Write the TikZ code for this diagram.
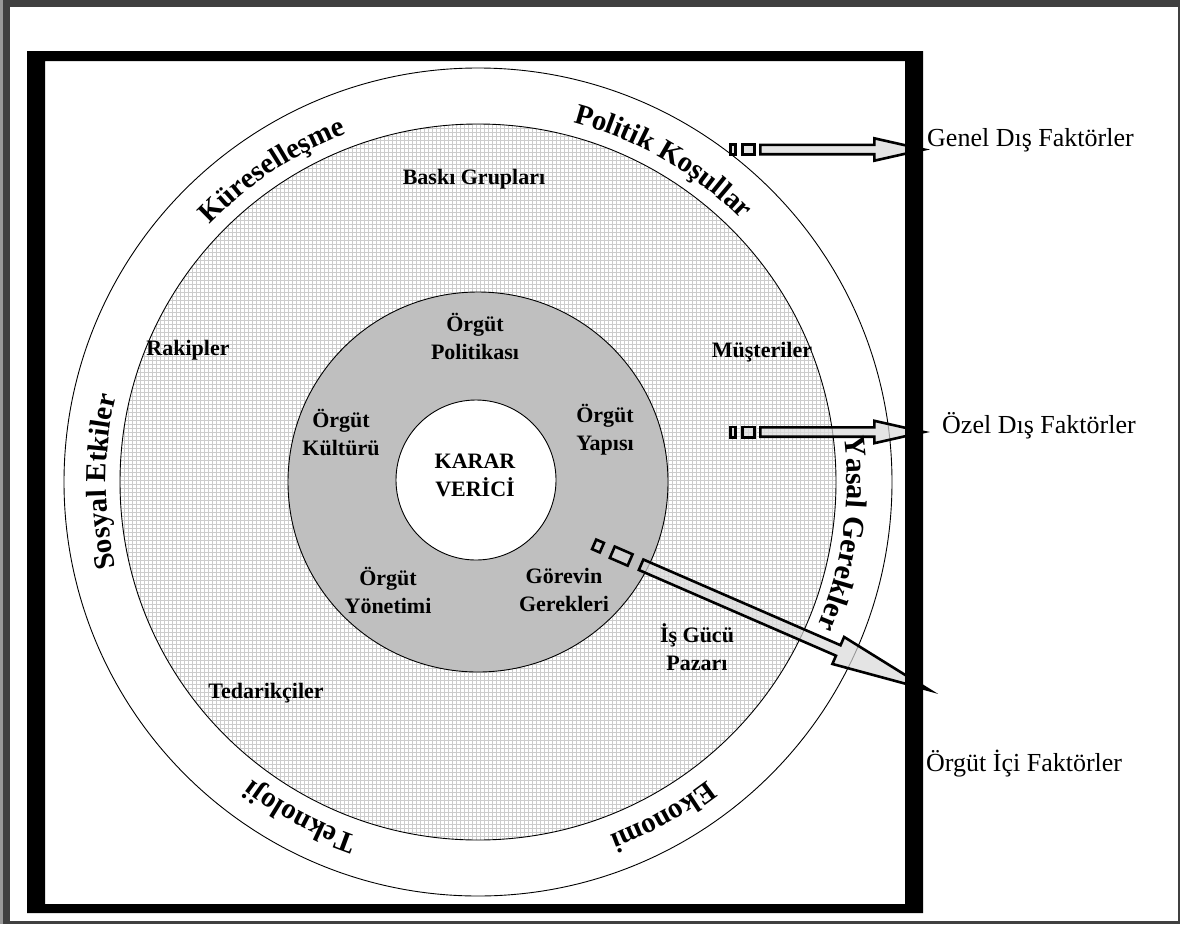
\documentclass[tikz,border=0pt]{standalone}
\usepackage{fontspec}
\setmainfont{Liberation Serif}
\usetikzlibrary{decorations.text}

\newcommand{\ringfont}{\fontsize{29}{31}\selectfont\bfseries}
\newcommand{\bigringfont}{\fontsize{30}{32}\selectfont\bfseries}

\begin{document}
\begin{tikzpicture}[x=1pt,y=1pt,
  ringtext/.style={decorate, decoration={text along path, text align=center,
      text={|\ringfont|#1}}},
  bigringtext/.style={decorate, decoration={text along path, text align=center,
      text={|\bigringfont|#1}}},
  inlabel/.style={font=\fontsize{22}{28}\selectfont\bfseries, align=center, inner sep=0pt},
  sidelabel/.style={font=\fontsize{26}{30}\selectfont, anchor=base west, inner sep=0pt},
  arrowpart/.style={draw=black, line width=2.6pt, fill=black!15, fill opacity=0.7,
      draw opacity=1, line join=miter},
  circline/.style={draw=black, line width=0.9pt},
  gridline/.style={draw=black!20, line width=0.7pt},
]
\useasboundingbox (0,0) rectangle (1180,-924);

% window edge and page
\fill[black!75] (0,0) rectangle (1180,-924);
\fill[black!40] (0,0) rectangle (3,-924);
\fill[white] (10,-7) rectangle (1178,-921);

\coordinate (C) at (478,-482);

% outer ring: general external factors
\draw[circline, fill=white] (C) circle[radius=414];

% middle disc: specific external factors (fine grid fill)
\begin{scope}
  \clip (C) circle[radius=358];
  \fill[white] (C) circle[radius=358];
  \draw[gridline] (110,-116) grid[step=4] (850,-850);
\end{scope}
\draw[circline] (C) circle[radius=358];

% inner ring: internal factors
\draw[circline, fill=black!25] (C) circle[radius=190];
\draw[circline, fill=white] (476,-480) circle[radius=80];

% words written along the outer ring (clockwise, tops outward)
\begin{scope}[shift={(478,-482)}]
  \path[ringtext={Küreselleşme}] (153.5:372) arc[start angle=153.5, end angle=93.5, radius=372];
  \path[ringtext={Politik Koşullar}] (95:372) arc[start angle=95, end angle=25, radius=372];
  \path[ringtext={Sosyal Etkiler}] (215:372) arc[start angle=215, end angle=145, radius=372];
  \path[bigringtext={Yasal Gerekler}] (27:369) arc[start angle=27, end angle=-43, radius=369];
  \path[ringtext={Teknoloji}] (-88:374) arc[start angle=-88, end angle=-148, radius=374];
  \path[ringtext={Ekonomi}] (-30.5:377) arc[start angle=-30.5, end angle=-91.5, radius=377];
\end{scope}

% labels inside the rings
\node[inlabel] (baski)   at (474,-179) {Baskı Grupları};
\node[inlabel] (rakip)   at (188,-350) {Rakipler};
\node[inlabel] (musteri) at (762,-352) {Müşteriler};
\node[inlabel] (tedarik) at (266,-693) {Tedarikçiler};
\node[inlabel] (isgucu)  at (697,-647) {İş Gücü\\Pazarı};
\node[inlabel] (politika) at (475,-336) {Örgüt\\Politikası};
\node[inlabel] (kultur)  at (341,-432) {Örgüt\\Kültürü};
\node[inlabel] (yapi)    at (605,-430) {Örgüt\\Yapısı};
\node[inlabel] (karar)   at (475,-475) {KARAR\\VERİCİ};
\node[inlabel] (yonetim) at (388,-590) {Örgüt\\Yönetimi};
\node[inlabel] (gorev)   at (564,-590) {Görevin\\Gerekleri};

% block arrows pointing to the factor names
\begin{scope}[shift={(729,-149.5)}]
  \draw[arrowpart] (1.3,-5.2) rectangle (6.7,5.2);
  \draw[arrowpart] (13.3,-5.2) rectangle (25.7,5.2);
  \draw[arrowpart] (31.3,-4.7) -- (145.3,-4.7) -- (145.3,-11.2) -- (195,0)
      -- (145.3,11.2) -- (145.3,4.7) -- (31.3,4.7) -- cycle;
\end{scope}
\begin{scope}[shift={(729,-432)}]
  \draw[arrowpart] (1.3,-5.2) rectangle (6.7,5.2);
  \draw[arrowpart] (13.3,-5.2) rectangle (25.7,5.2);
  \draw[arrowpart] (31.3,-4.7) -- (145.3,-4.7) -- (145.3,-11.2) -- (195,0)
      -- (145.3,11.2) -- (145.3,4.7) -- (31.3,4.7) -- cycle;
\end{scope}
\begin{scope}[shift={(598,-546)}, rotate=-23.5]
  \draw[arrowpart] (-4.2,-5.2) rectangle (4.2,5.2);
  \draw[arrowpart] (15.6,-6.2) rectangle (35,6.2);
  \draw[arrowpart] (47,-5.7) -- (262,-5.7) -- (262,-14.7) -- (362,0)
      -- (262,14.7) -- (262,5.7) -- (47,5.7) -- cycle;
\end{scope}

% heavy black frame
\fill[black, even odd rule] (27,-51) rectangle (923,-913) (45,-61) rectangle (905,-904);

% factor names outside the frame
\node[sidelabel] (genel) at (927,-146) {Genel Dış Faktörler};
\node[sidelabel] (ozel)  at (942,-433) {Özel Dış Faktörler};
\node[sidelabel] (icsel) at (926,-771) {Örgüt İçi Faktörler};
\end{tikzpicture}
\end{document}
